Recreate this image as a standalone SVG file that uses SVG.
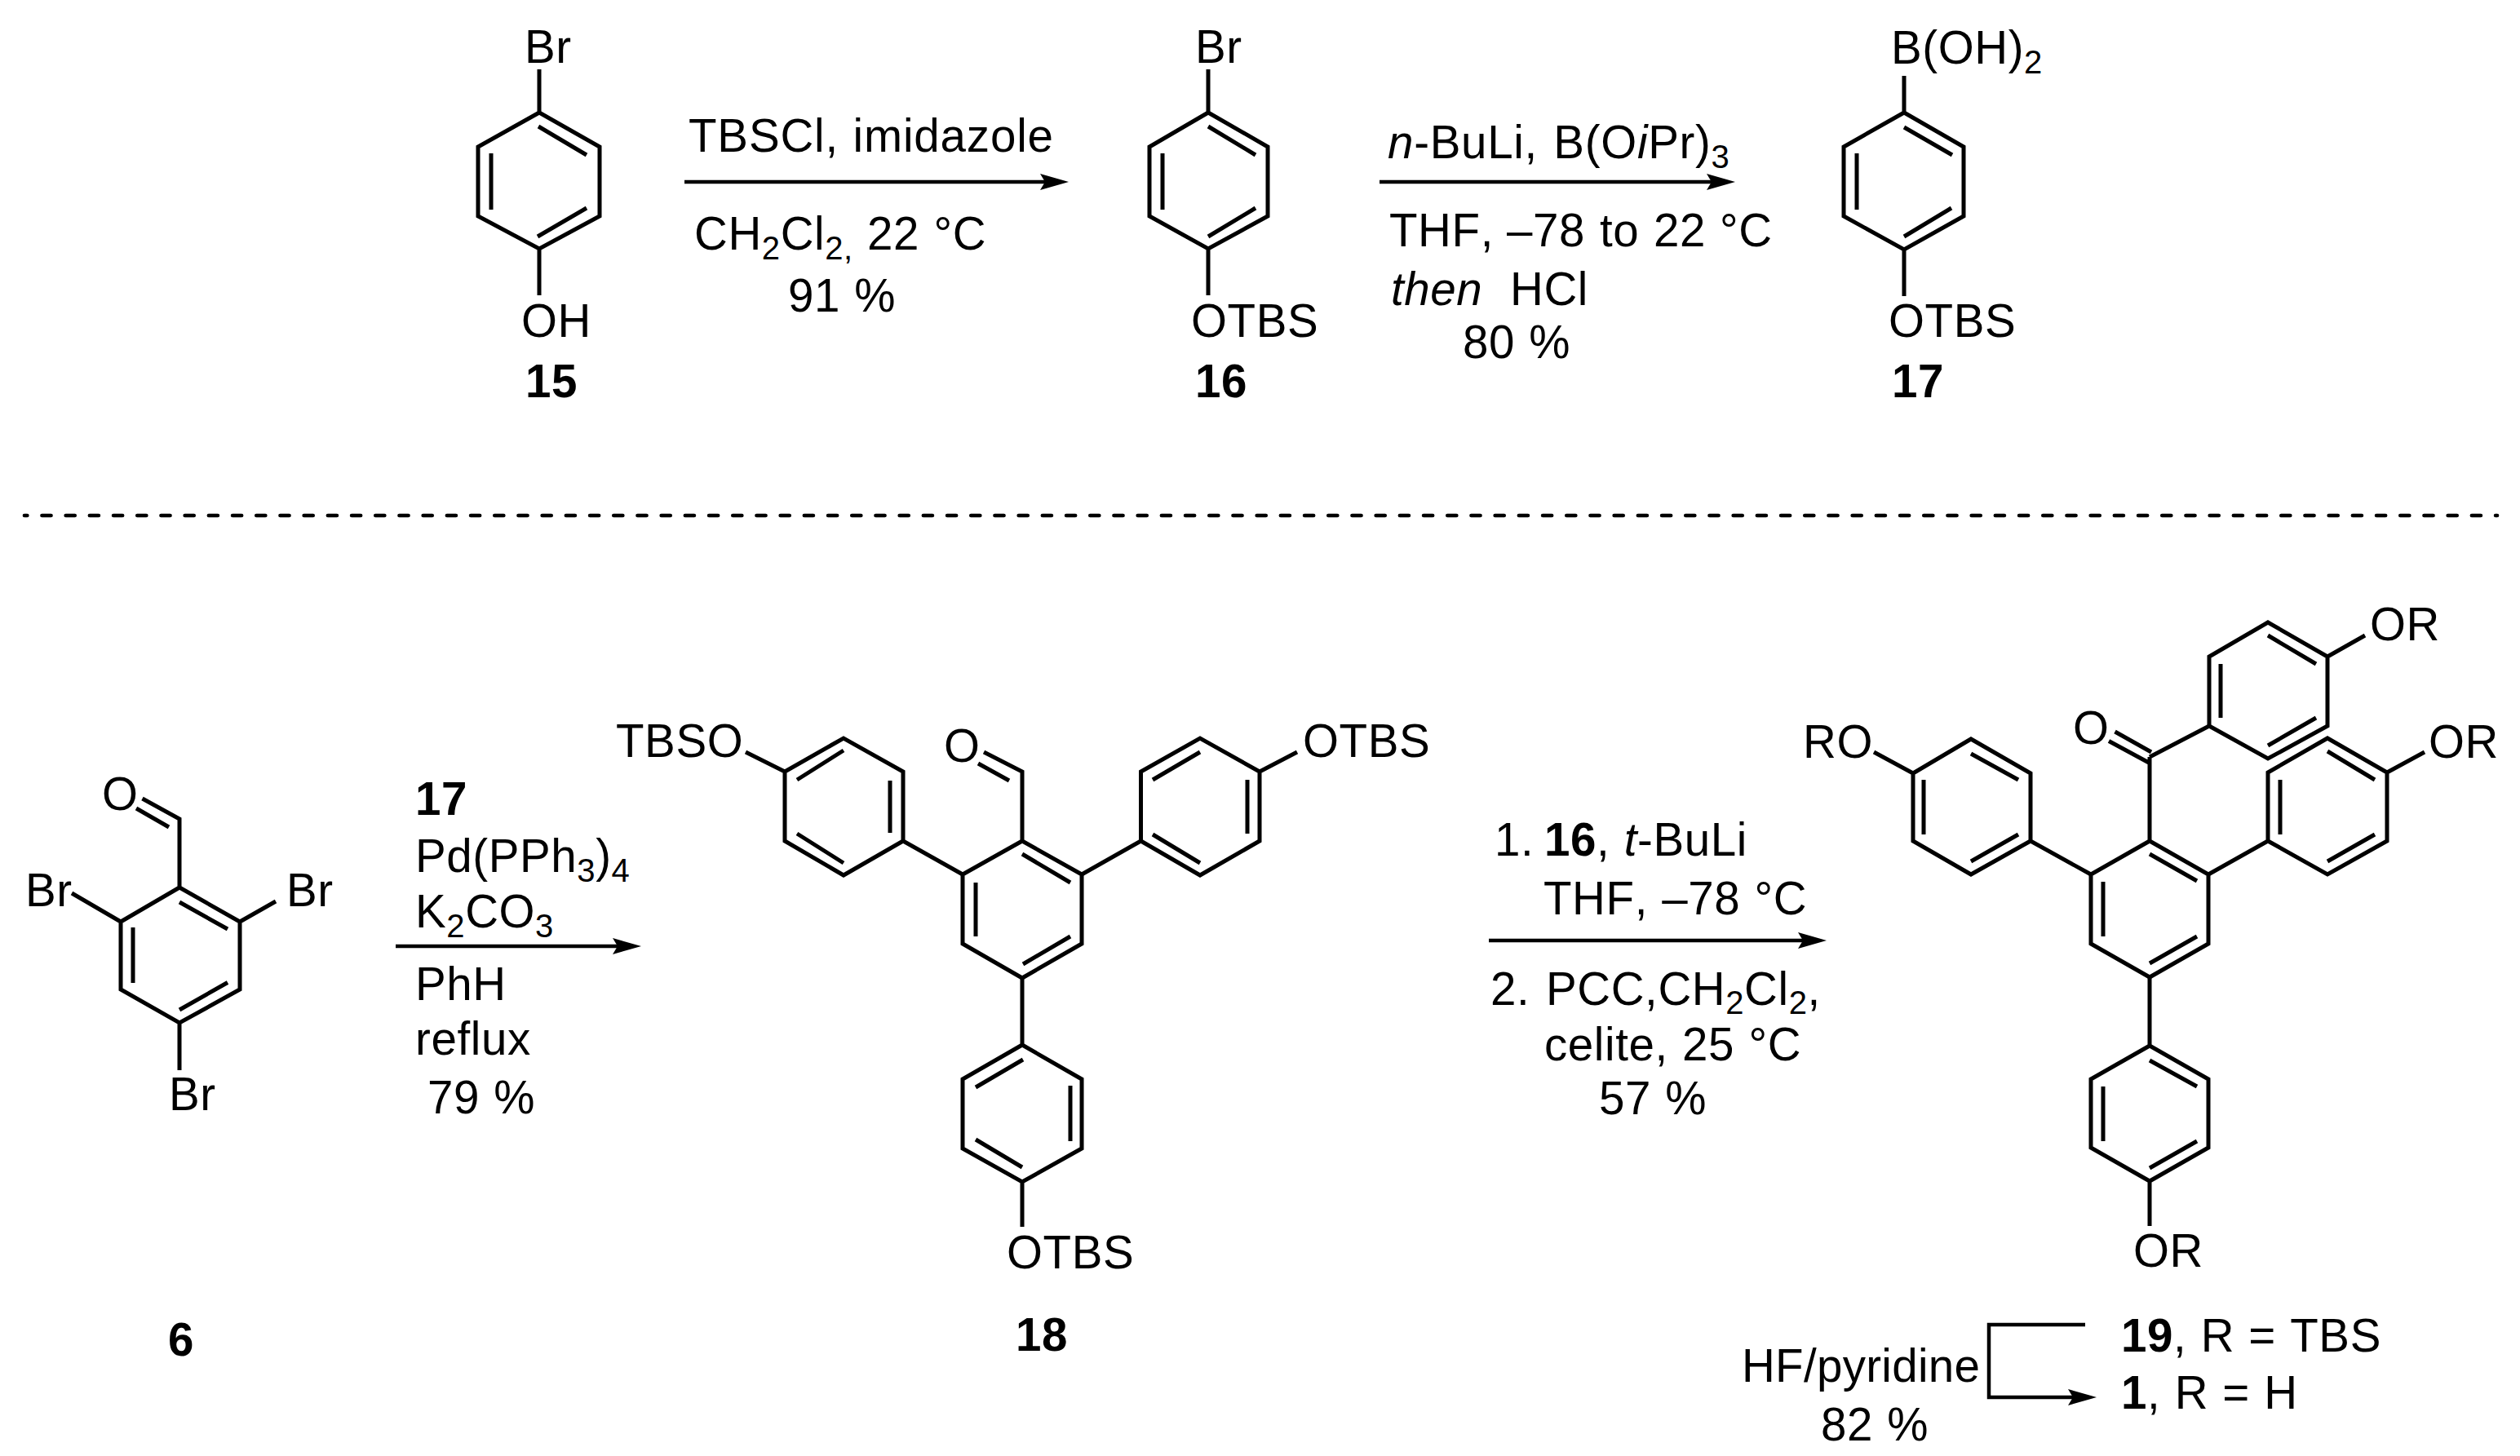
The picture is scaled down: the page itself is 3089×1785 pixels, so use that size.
<svg xmlns="http://www.w3.org/2000/svg" width="3089" height="1785" viewBox="0 0 3089 1785">
<style>
text{font-family:"Liberation Sans",Arial,sans-serif;font-size:56.5px;fill:#000;font-kerning:none;letter-spacing:.6px;word-spacing:1px}
.b{font-weight:bold}
.i{font-style:italic}
.s{font-size:40px}
.bond{fill:none;stroke:#000;stroke-width:5;stroke-linejoin:miter;stroke-linecap:butt}
.conn{fill:none;stroke:#000;stroke-width:4.5}
.dash{fill:none;stroke:#000;stroke-width:4.7;stroke-linecap:round;stroke-dasharray:11 18.2;stroke-dashoffset:7.7}
</style>
<defs>
<marker id="head" markerUnits="userSpaceOnUse" markerWidth="40" markerHeight="24" refX="8" refY="11" orient="auto">
<path d="M1,1L36,11L1,21L7,11Z" fill="#000"/>
</marker>
</defs>
<rect width="3089" height="1785" fill="#fff"/>

<g id="connectors">
<path class="conn" d="M839 223H1282" marker-end="url(#head)"/>
<path class="conn" d="M1691 223H2099" marker-end="url(#head)"/>
<path class="conn" d="M485 1160H758" marker-end="url(#head)"/>
<path class="conn" d="M1825 1153H2211" marker-end="url(#head)"/>
<path class="conn" d="M2556 1624H2438V1713H2542" marker-end="url(#head)"/>
<path class="dash" d="M30 632H3061"/>
</g>

<g id="node-15">
<path class="bond" d="M661 85V138L735 180V265L661 305L586 265V180L661 138M661 305V362M660 155L719 190M602 188V257M719 255L659 290"/>
<text x="643" y="77">Br</text>
<text x="639" y="413">OH</text>
<text class="b" x="644" y="487">15</text>
</g>

<g id="reagents-15-16">
<text x="844" y="186" style="letter-spacing:.85px">TBSCl, imidazole</text>
<text x="851" y="306">CH<tspan class="s" dy="12">2</tspan><tspan dy="-12">Cl</tspan><tspan class="s" dy="12">2,</tspan><tspan dy="-12"> 22 °C</tspan></text>
<text x="966" y="382">91 %</text>
</g>

<g id="node-16">
<path class="bond" d="M1481 85V138L1554 180V265L1481 305L1409 265V180L1481 138M1481 305V362M1481 155L1539 190M1425 188V257M1539 255L1481 290"/>
<text x="1465" y="77">Br</text>
<text x="1460" y="413">OTBS</text>
<text class="b" x="1465" y="487">16</text>
</g>

<g id="reagents-16-17">
<text x="1701" y="194" style="word-spacing:3px;letter-spacing:.7px"><tspan class="i">n</tspan>-BuLi, B(O<tspan class="i">i</tspan>Pr)<tspan class="s" dy="12">3</tspan></text>
<text x="1703" y="302">THF,<tspan x="1847">–78</tspan><tspan x="1961">to</tspan><tspan x="2027">22</tspan><tspan x="2108">°C</tspan></text>
<text x="1705" y="374"><tspan class="i">then</tspan></text>
<text x="1851" y="374">HCl</text>
<text x="1793" y="439">80 %</text>
</g>

<g id="node-17">
<path class="bond" d="M2334 93V138L2407 180V265L2334 306L2260 265V180L2334 138M2334 306V363M2334 156L2393 190M2276 188V257M2392 255L2334 290"/>
<text x="2318" y="78">B(OH)<tspan class="s" dy="12">2</tspan></text>
<text x="2315" y="413">OTBS</text>
<text class="b" x="2319" y="487">17</text>
</g>

<g id="node-6">
<path class="bond" d="M174.500 979L220 1004V1088L294 1130V1213L220 1254L148 1213V1130L220 1088M167 991L207 1014M220 1106L279 1139M163 1137V1205M279 1204.500L220 1238M88 1095L148 1130M338 1105L294 1130M220 1254V1312"/>
<text x="125" y="993">O</text>
<text x="31" y="1111">Br</text>
<text x="351" y="1111">Br</text>
<text x="207" y="1361">Br</text>
<text class="b" x="206" y="1662">6</text>
</g>

<g id="reagents-6-18">
<text class="b" x="509" y="999">17</text>
<text x="509" y="1069">Pd(PPh<tspan class="s" dy="12">3</tspan><tspan dy="-12">)</tspan><tspan class="s" dy="12">4</tspan></text>
<text x="509" y="1137">K<tspan class="s" dy="12">2</tspan><tspan dy="-12">CO</tspan><tspan class="s" dy="12">3</tspan></text>
<text x="509" y="1226">PhH</text>
<text x="509" y="1293">reflux</text>
<text x="524" y="1365">79 %</text>
</g>

<g id="node-18">
<path class="bond" d="M1206 922L1253 946V1031L1326 1072V1157L1253 1199L1180 1157V1072L1253 1031M1199 936L1237 957M1253 1047L1312 1082M1196 1082V1148M1312 1148L1254 1182"/>
<path class="bond" d="M1180 1072L1107 1031V946L1034 905L962 946V1031L1034 1073L1107 1031M1034 920L977 956M1091 957V1021M977 1022L1034 1058M914 922L962 946"/>
<path class="bond" d="M1326 1072L1398.500 1031V946L1471 905L1544 946V1031L1471 1073L1398.500 1031M1471 922L1413 956M1529 956V1022M1413 1023L1471 1058M1590 922L1544 946"/>
<path class="bond" d="M1253 1199V1281L1326 1323V1408L1253 1449L1180 1408V1323L1253 1281M1254 1299L1196 1333M1312 1331V1399M1196 1397L1253 1431M1253 1449V1504"/>
<text x="1157" y="934">O</text>
<text x="755" y="928">TBSO</text>
<text x="1597" y="928">OTBS</text>
<text x="1234" y="1555">OTBS</text>
<text class="b" x="1245" y="1656">18</text>
</g>

<g id="reagents-18-19">
<text x="1832" y="1049">1.</text>
<text x="1893" y="1049"><tspan class="b">16</tspan>, <tspan class="i">t</tspan>-BuLi</text>
<text x="1892" y="1121">THF, –78 °C</text>
<text x="1827" y="1232">2.</text>
<text x="1895" y="1232">PCC,CH<tspan class="s" dy="11">2</tspan><tspan dy="-11">Cl</tspan><tspan class="s" dy="11">2</tspan><tspan dy="-11">,</tspan></text>
<text x="1893" y="1300">celite, 25 °C</text>
<text x="1960" y="1366">57 %</text>
</g>

<g id="node-19">
<path class="bond" d="M2635 928V1031L2707 1072V1157L2635 1198L2563 1157V1072L2635 1031M2592.500 897L2637 922M2585 908.500L2634 935M2635 928L2708 890M2635 1047L2693 1080M2578 1081V1148M2693 1148L2635 1181"/>
<path class="bond" d="M2708 890V805L2780 763L2853 805V890L2780 930L2708 890M2722 814V880M2780 779L2839 814M2839 880L2780 914M2899 779L2853 805"/>
<path class="bond" d="M2707 1072L2780 1031V947L2853 905L2926 947V1031L2853 1072L2780 1031M2795 956V1023M2853 921L2911 956M2911 1023L2853 1056M2972 922L2926 947"/>
<path class="bond" d="M2563 1072L2489 1031V948L2416 906L2345 948V1031L2416 1072L2489 1031M2358 956V1023M2416 924L2474 956M2474 1023L2416 1056M2297 922L2345 948"/>
<path class="bond" d="M2635 1198V1282L2707 1323V1407L2635 1448L2563 1407V1323L2635 1282M2635 1300L2693 1332M2578 1332V1399M2693 1399L2635 1432M2635 1448V1503"/>
<text x="2541" y="912">O</text>
<text x="2905" y="785">OR</text>
<text x="2977" y="929">OR</text>
<text x="2210" y="929">RO</text>
<text x="2615" y="1553">OR</text>
<text x="2135" y="1694" style="letter-spacing:.3px">HF/pyridine</text>
<text x="2232" y="1766">82 %</text>
<text x="2600" y="1657"><tspan class="b">19</tspan>, R = TBS</text>
<text x="2600" y="1727"><tspan class="b">1</tspan>, R = H</text>
</g>
</svg>
